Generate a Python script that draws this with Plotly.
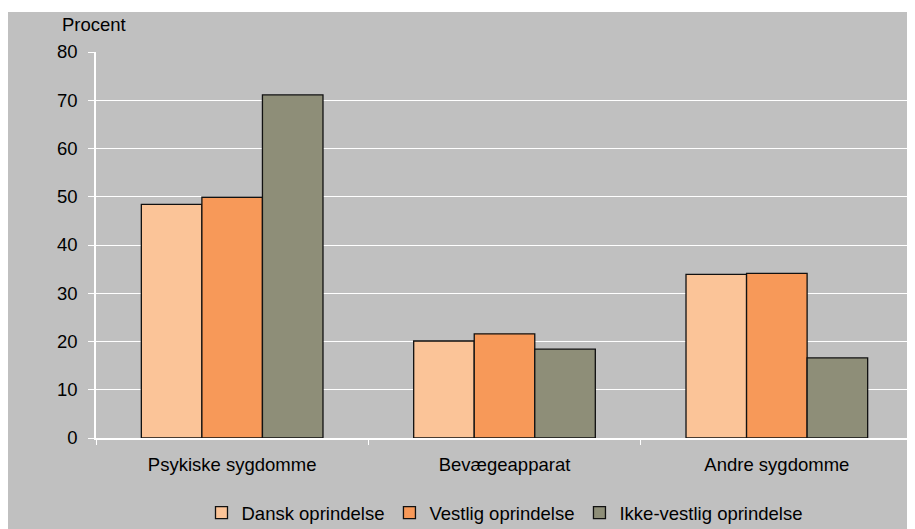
import plotly.graph_objects as go

categories = ["Psykiske sygdomme", "Bevægeapparat", "Andre sygdomme"]
dansk = [48.4, 20.1, 33.9]
vestlig = [49.9, 21.6, 34.1]
ikke_vestlig = [71.1, 18.4, 16.6]

series = [
    ("Dansk oprindelse", dansk, "#FBC498"),
    ("Vestlig oprindelse", vestlig, "#F79959"),
    ("Ikke-vestlig oprindelse", ikke_vestlig, "#8E8E78"),
]

FONT = "Liberation Sans, Arial, sans-serif"
GRAY = "#C0C0C0"
FS = 18.5

# the page has an 8px body margin, so the figure is laid out 8px smaller
W, H = 907, 521
L, R, T, B = 88, 2, 44, 91
PW, PH = W - L - R, H - T - B

fig = go.Figure()
for name, values, color in series:
    fig.add_trace(go.Bar(
        x=categories,
        y=values,
        name=name,
        marker=dict(color=color, line=dict(color="#111111", width=1.3)),
    ))

# grey chart area behind everything
fig.add_shape(
    type="rect", xref="paper", yref="paper",
    x0=-L / PW, x1=1 + R / PW,
    y0=-B / PH, y1=(PH + T - 4) / PH,
    fillcolor=GRAY, line=dict(width=0), layer="below",
)

fig.add_annotation(
    text="Procent", xref="paper", yref="paper",
    x=(52 - L) / PW, y=(PH + T - 17) / PH,
    xanchor="left", yanchor="middle", showarrow=False,
    font=dict(size=FS, color="#000000", family=FONT),
)

fig.update_layout(
    width=W, height=H,
    margin=dict(l=L, r=R, t=T, b=B, autoexpand=False),
    paper_bgcolor="white",
    plot_bgcolor=GRAY,
    barmode="group",
    bargap=0.333,
    bargroupgap=0,
    font=dict(family=FONT, size=FS, color="#000000"),
    showlegend=True,
    legend=dict(
        orientation="h", x=0.5, xanchor="center",
        y=-(513 - 438) / PH, yanchor="middle",
        bgcolor="rgba(0,0,0,0)", itemwidth=30,
        font=dict(size=FS, family=FONT),
        traceorder="normal",
    ),
    xaxis=dict(
        tickson="boundaries", ticks="outside", ticklen=5, tickcolor="white",
        showline=True, linecolor="white", linewidth=1.5,
        showgrid=False, ticklabelstandoff=9,
        tickfont=dict(size=FS, family=FONT),
    ),
    yaxis=dict(
        range=[0, 80], dtick=10, ticks="outside", ticklen=6, tickcolor="white",
        showline=True, linecolor="white", linewidth=1.5, mirror=True,
        showgrid=True, gridcolor="white", gridwidth=1,
        zeroline=False, ticklabelstandoff=7,
        tickfont=dict(size=FS, family=FONT),
    ),
)

fig.write_html("out.html")
